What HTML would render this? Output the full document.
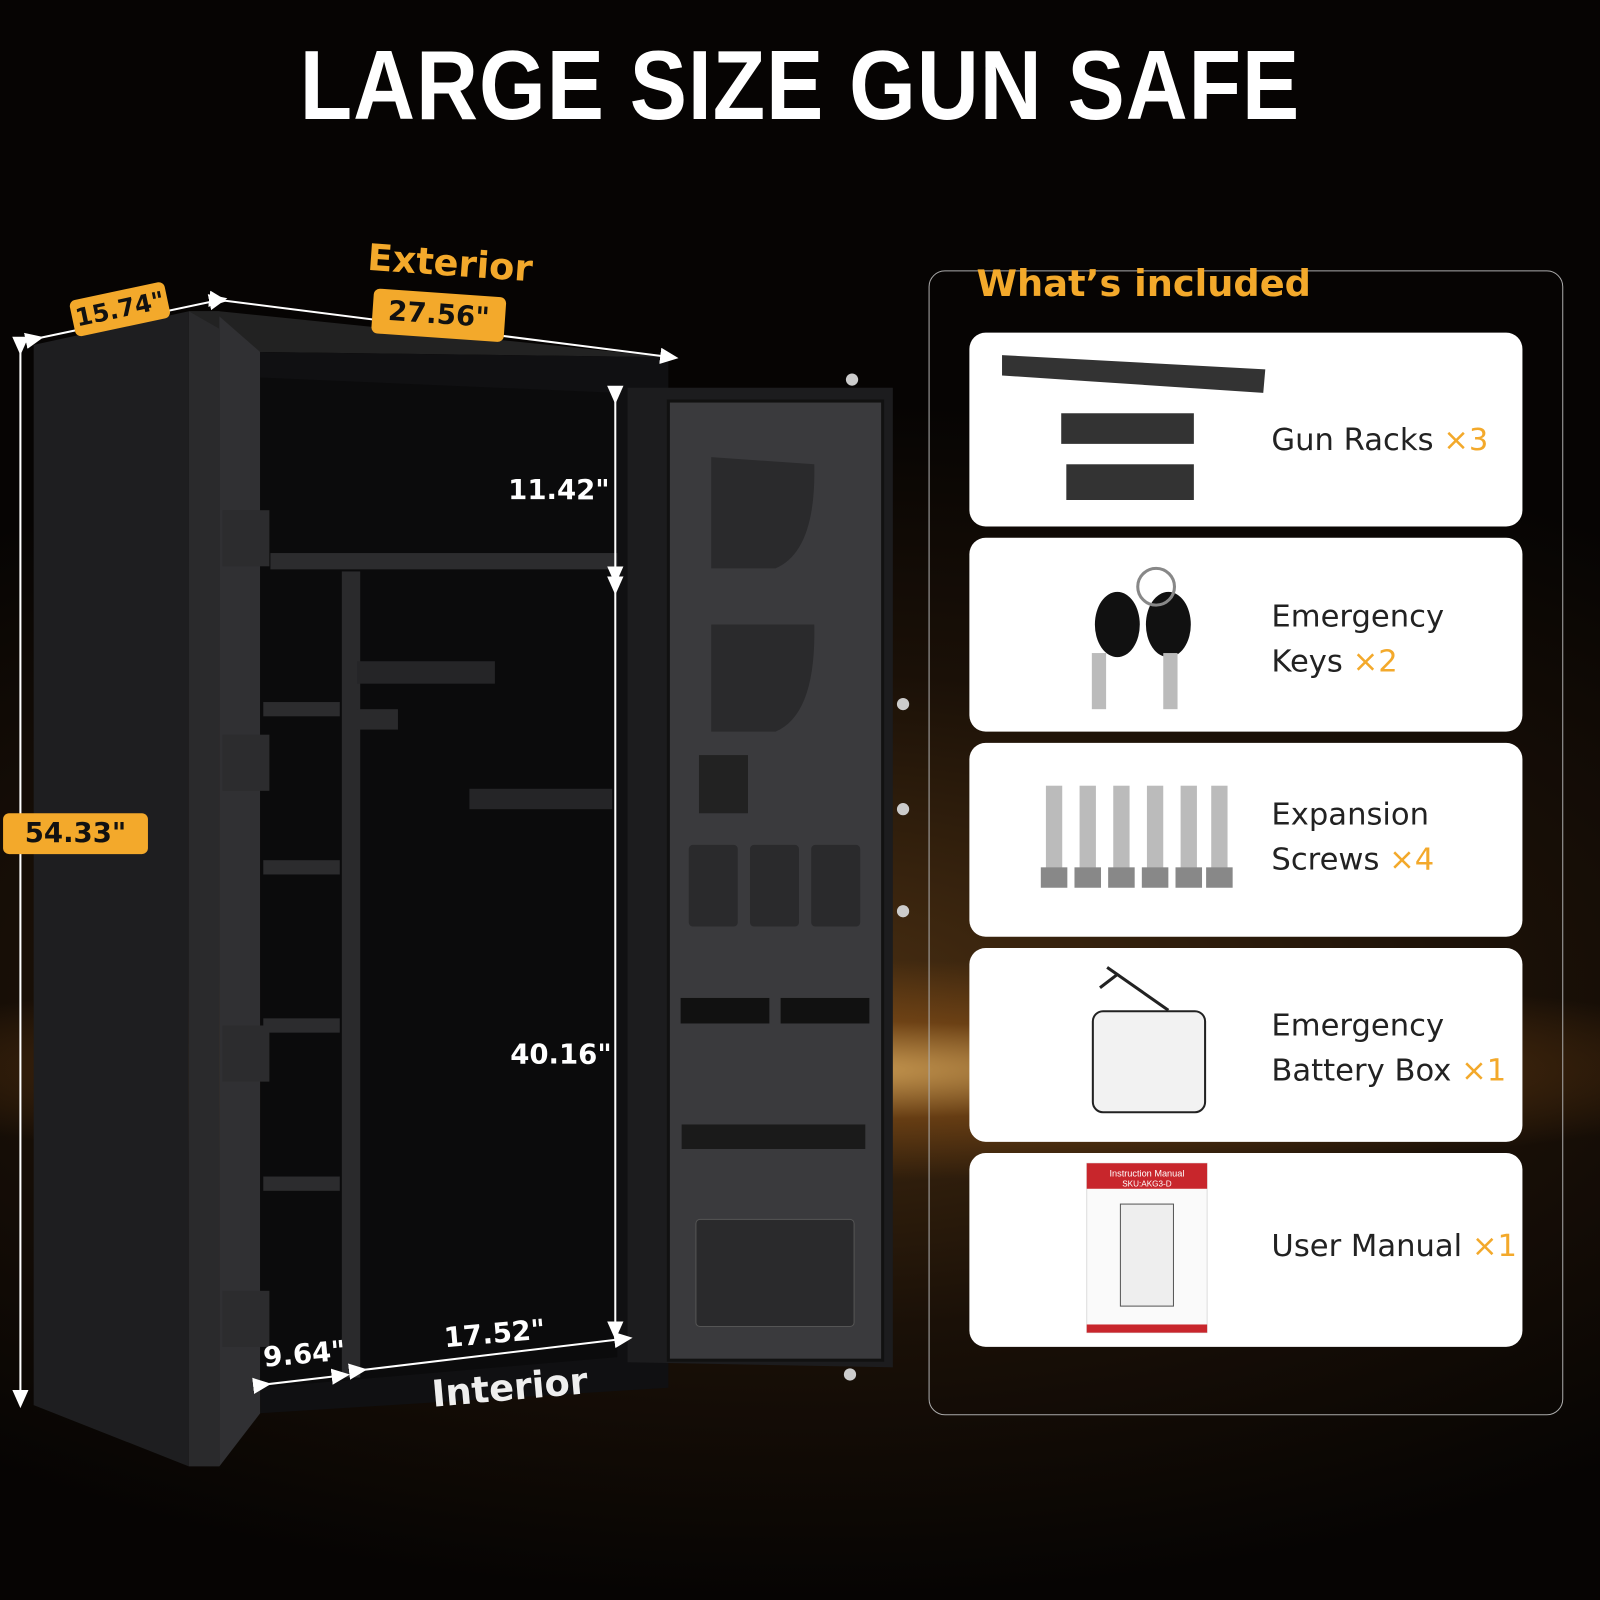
<!DOCTYPE html>
<html><head><meta charset="utf-8"><style>
html,body{margin:0;padding:0}
body{width:1600px;height:1600px;position:relative;overflow:hidden;font-family:"Liberation Sans","DejaVu Sans",sans-serif;
background:radial-gradient(ellipse 1000px 110px at 800px 1070px,rgba(255,200,110,0.75),rgba(190,110,30,0.35) 45%,rgba(0,0,0,0) 100%),
radial-gradient(ellipse 1300px 600px at 800px 1000px,#4a2f12 0%,#1a1007 55%,#060403 100%);}
#w{position:absolute;left:0;top:0;width:1568px;height:1568px;transform:scale(1.0204);transform-origin:0 0}
.title{position:absolute;left:0;width:1568px;top:28px;text-align:center;color:#fff;font-weight:bold;font-size:84px;letter-spacing:1px;font-family:"Liberation Sans",sans-serif;transform:scaleY(1.15);transform-origin:50% 0}
.panel{position:absolute;left:910px;top:265px;width:620px;height:1120px;border:1.5px solid #aaa;border-radius:16px}
.ph{position:absolute;left:957px;top:258px;color:#f3a92b;font-size:36px;font-weight:bold;font-family:"DejaVu Sans",sans-serif}
.card{position:absolute;left:950px;width:542px;height:190px;background:#fff;border-radius:16px}
.ct{position:absolute;left:1246px;color:#222;font-size:30px;line-height:44px;font-family:"DejaVu Sans",sans-serif}
.ct b{color:#f3a92b;font-weight:normal}
.tag{position:absolute;background:#f3a92b;color:#111;font-weight:bold;border-radius:6px;text-align:center;font-family:"DejaVu Sans",sans-serif}
.dim{position:absolute;color:#fff;font-weight:bold;font-size:27px;font-family:"DejaVu Sans",sans-serif}
</style></head><body><div id="w">
<div class="title">LARGE SIZE GUN SAFE</div>

<svg width="1568" height="1568" style="position:absolute;left:0;top:0">
<defs><marker id="a" markerWidth="10" markerHeight="10" refX="5" refY="5" orient="auto"><path d="M0,1 L9,5 L0,9z" fill="#fff"/></marker></defs>
<polygon points="33,338 185,305 185,1437 33,1377" fill="#1e1e20"/>
<polygon points="185,305 215,305 215,1437 185,1437" fill="#2a2a2c"/>
<polygon points="185,305 215,305 655,350 255,345" fill="#222"/>
<polygon points="215,310 255,345 255,1385 215,1437" fill="#303033"/>
<polygon points="255,345 655,350 655,1360 255,1385" fill="#101012"/>
<polygon points="255,370 605,385 605,1330 255,1360" fill="#0b0b0c"/>
<rect x="265" y="542" width="340" height="16" fill="#2c2c2e"/>
<rect x="335" y="560" width="18" height="790" fill="#2a2a2c"/>
<g fill="#2c2c2e"><rect x="258" y="688" width="75" height="14"/><rect x="258" y="843" width="75" height="14"/><rect x="258" y="998" width="75" height="14"/><rect x="258" y="1153" width="75" height="14"/></g>
<rect x="350" y="648" width="135" height="22" fill="#252527"/><rect x="350" y="695" width="40" height="20" fill="#2a2a2c"/>
<rect x="460" y="773" width="140" height="20" fill="#252527"/>
<g fill="#2c2c2e"><rect x="218" y="500" width="46" height="55"/><rect x="218" y="720" width="46" height="55"/><rect x="218" y="1005" width="46" height="55"/><rect x="218" y="1265" width="46" height="55"/></g>
<polygon points="615,380 875,380 875,1340 615,1335" fill="#1c1c1e"/>
<rect x="655" y="393" width="210" height="940" fill="#3a3a3d" stroke="#111" stroke-width="3"/>
<path d="M697,448 L798,455 Q800,540 760,557 L697,557Z" fill="#2a2a2c"/>
<path d="M697,612 L798,612 Q800,700 760,717 L697,717Z" fill="#2a2a2c"/>
<rect x="685" y="740" width="48" height="57" fill="#222"/>
<rect x="675" y="828" width="48" height="80" rx="4" fill="#2a2a2c"/><rect x="735" y="828" width="48" height="80" rx="4" fill="#2a2a2c"/><rect x="795" y="828" width="48" height="80" rx="4" fill="#2a2a2c"/>
<rect x="667" y="978" width="87" height="25" fill="#111"/><rect x="765" y="978" width="87" height="25" fill="#111"/>
<rect x="668" y="1102" width="180" height="24" fill="#1a1a1a"/>
<rect x="682" y="1195" width="155" height="105" rx="4" fill="#2a2a2c" stroke="#555"/>
<g fill="#ccc"><circle cx="885" cy="690" r="6"/><circle cx="885" cy="793" r="6"/><circle cx="885" cy="893" r="6"/><circle cx="835" cy="372" r="6"/><circle cx="833" cy="1347" r="6"/></g>
<g stroke="#fff" stroke-width="2" fill="none" marker-start="url(#a)" marker-end="url(#a)">
<line x1="20" y1="340" x2="20" y2="1372"/>
<line x1="35" y1="332" x2="215" y2="294"/>
<line x1="215" y1="294" x2="657" y2="350"/>
<line x1="603" y1="388" x2="603" y2="565"/>
<line x1="603" y1="575" x2="603" y2="1305"/>
<line x1="352" y1="1343" x2="612" y2="1312"/>
<line x1="258" y1="1357" x2="335" y2="1348"/>
</g>
</svg>

<div style="position:absolute;left:360px;top:238px;color:#f3a92b;font-size:36px;font-weight:bold;transform:rotate(4deg);font-family:'DejaVu Sans',sans-serif">Exterior</div>
<div class="tag" style="left:365px;top:287px;width:130px;height:44px;font-size:27px;line-height:44px;transform:rotate(4deg)">27.56"</div>
<div class="tag" style="left:70px;top:285px;width:95px;height:36px;font-size:24px;line-height:36px;transform:rotate(-12deg)">15.74"</div>
<div class="tag" style="left:3px;top:797px;width:142px;height:40px;font-size:27px;line-height:40px">54.33"</div>
<div class="dim" style="left:498px;top:465px">11.42"</div>
<div class="dim" style="left:500px;top:1018px">40.16"</div>
<div class="dim" style="left:435px;top:1292px;transform:rotate(-5deg)">17.52"</div>
<div class="dim" style="left:258px;top:1312px;transform:rotate(-5deg)">9.64"</div>
<div style="position:absolute;left:423px;top:1340px;color:#eee;font-size:36px;font-weight:bold;transform:rotate(-5deg);font-family:'DejaVu Sans',sans-serif">Interior</div>

<div class="panel"></div>
<div class="ph">What’s included</div>

<div class="card" style="top:326px"></div>
<div class="card" style="top:527px"></div>
<div class="card" style="top:728px"></div>
<div class="card" style="top:929px"></div>
<div class="card" style="top:1130px"></div>

<svg width="1568" height="1568" style="position:absolute;left:0;top:0">
<g fill="#333"><polygon points="982,348 1240,362 1238,385 982,368"/><rect x="1040" y="405" width="130" height="30"/><rect x="1045" y="455" width="125" height="35"/></g>
<g fill="#111"><ellipse cx="1095" cy="612" rx="22" ry="32"/><ellipse cx="1145" cy="612" rx="22" ry="32"/></g>
<g fill="#bbb"><rect x="1070" y="640" width="14" height="55"/><rect x="1140" y="640" width="14" height="55"/></g>
<circle cx="1133" cy="575" r="18" fill="none" stroke="#888" stroke-width="3"/>
<g fill="#bbb"><rect x="1025" y="770" width="16" height="85"/><rect x="1058" y="770" width="16" height="85"/><rect x="1091" y="770" width="16" height="85"/><rect x="1124" y="770" width="16" height="85"/><rect x="1157" y="770" width="16" height="85"/><rect x="1187" y="770" width="16" height="85"/></g>
<g fill="#888"><rect x="1020" y="850" width="26" height="20"/><rect x="1053" y="850" width="26" height="20"/><rect x="1086" y="850" width="26" height="20"/><rect x="1119" y="850" width="26" height="20"/><rect x="1152" y="850" width="26" height="20"/><rect x="1182" y="850" width="26" height="20"/></g>
<rect x="1071" y="991" width="110" height="99" rx="10" fill="#f2f2f2" stroke="#222" stroke-width="2"/>
<path d="M1085,948 L1095,955 L1078,968 M1095,955 L1145,990" stroke="#222" stroke-width="3" fill="none"/>
<rect x="1065" y="1140" width="118" height="166" fill="#fafafa" stroke="#ddd"/>
<rect x="1065" y="1140" width="118" height="25" fill="#c8262c"/>
<text x="1124" y="1153" font-size="9" fill="#fff" text-anchor="middle" font-family="Liberation Sans">Instruction Manual</text>
<text x="1124" y="1163" font-size="8" fill="#fff" text-anchor="middle" font-family="Liberation Sans">SKU:AKG3-D</text>
<rect x="1098" y="1180" width="52" height="100" fill="#eee" stroke="#555"/>
<rect x="1065" y="1298" width="118" height="8" fill="#c8262c"/>
</svg>

<div class="ct" style="top:410px">Gun Racks <b>×3</b></div>
<div class="ct" style="top:583px">Emergency<br>Keys <b>×2</b></div>
<div class="ct" style="top:777px">Expansion<br>Screws <b>×4</b></div>
<div class="ct" style="top:984px">Emergency<br>Battery Box <b>×1</b></div>
<div class="ct" style="top:1200px">User Manual <b>×1</b></div>
</div></body></html>
